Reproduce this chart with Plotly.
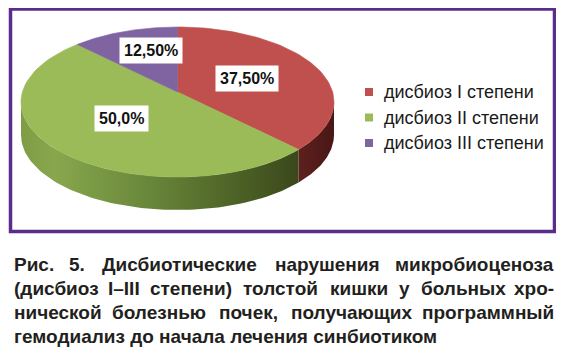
import numpy as np
import plotly.graph_objects as go

# ---------------- data ----------------
categories = ["дисбиоз I степени", "дисбиоз II степени", "дисбиоз III степени"]
values = [37.5, 50.0, 12.5]
value_labels = ["37,50%", "50,0%", "12,50%"]

caption_lines = [
    ["Рис.", "5.", "Дисбиотические", "нарушения", "микробиоценоза"],
    ["(дисбиоз", "I–III", "степени)", "толстой", "кишки", "у", "больных", "хро-"],
    ["нической", "болезнью", "почек,", "получающих", "программный"],
    ["гемодиализ до начала лечения синбиотиком"],
]

# ---------------- styles / layout ----------------
top_colors = ["#C0504D", "#9BBB59", "#8064A2"]
side_scales = [
    [[0, "#5E201E"], [1, "#481716"]],
    [[0, "#7E9C45"], [0.12, "#88A74D"], [0.45, "#6A883B"], [0.8, "#4B5F25"], [1, "#3A481C"]],
    [[0, "#5A4573"], [1, "#46355A"]],
]
FONT = "Liberation Sans, Arial, sans-serif"
PAGE_W, PAGE_H = 564, 356
OFF = 8  # page body margin: figure starts at (8, 8)
W, H = PAGE_W - OFF, PAGE_H - OFF
CX, CY, RX, RY = 177.5, 102.0, 156.5, 75.0
TILT = -0.133
DEPTH = 33.0
label_pos = [(247, 78), (121, 118), (151, 50)]

# approximate Arial Bold advance widths (em/1000)
BW = {
    'а': 556, 'б': 609, 'в': 563, 'г': 396, 'д': 625, 'е': 556, 'ж': 833, 'з': 514,
    'и': 604, 'й': 604, 'к': 521, 'л': 604, 'м': 740, 'н': 604, 'о': 611, 'п': 604,
    'р': 611, 'с': 556, 'т': 479, 'у': 556, 'ф': 885, 'х': 556, 'ц': 625, 'ч': 573,
    'ш': 865, 'щ': 885, 'ъ': 677, 'ы': 823, 'ь': 583, 'э': 556, 'ю': 885, 'я': 583,
    'Р': 667, 'Д': 722, 'I': 278, '.': 278, ',': 278, '(': 333, ')': 333, '–': 556,
    '-': 333, '5': 556, ' ': 278,
}


def text_w(s, size):
    return sum(BW.get(c, 580) for c in s) * size / 1000.0


def rim_psi(theta_deg):
    t = np.radians(theta_deg)
    u, v = np.sin(t), -np.cos(t)
    den = 1 + TILT * v
    xp = u * np.sqrt(1 - TILT ** 2) / den
    yp = (v + TILT) / den
    return np.degrees(np.arctan2(xp, -yp))


def arc(p1, p2, dy=0.0, n=80):
    ps = np.radians(np.linspace(p1, p2, n))
    return CX + RX * np.sin(ps), CY - RY * np.cos(ps) + dy


# wedge angles (clockwise from 12 o'clock)
total = sum(values)
bounds = np.concatenate([[0], np.cumsum(values) / total * 360.0])
psis = []
prev = -1e9
for b in bounds:
    p = rim_psi(b) % 360.0
    if b >= 360.0 - 1e-9:
        p = 360.0
    while p < prev:
        p += 360.0
    psis.append(p)
    prev = p

apex = (CX, CY + RY * TILT)

fig = go.Figure()

# side walls (visible front half: psi 90..270)
for i in range(len(values)):
    lo, hi = max(psis[i], 90.0), min(psis[i + 1], 270.0)
    if hi <= lo:
        continue
    xt, yt = arc(lo, hi)
    xb, yb = arc(lo, hi, DEPTH)
    xs = np.concatenate([xt, xb[::-1], xt[:1]])
    ys = np.concatenate([yt, yb[::-1], yt[:1]])
    fig.add_trace(go.Scatter(
        x=xs, y=ys, mode="lines", fill="toself",
        line=dict(width=0, color=side_scales[i][-1][1]),
        fillgradient=dict(type="horizontal", colorscale=side_scales[i],
                          start=float(xs.min()), stop=float(xs.max())),
        hoverinfo="skip", showlegend=False))

# top faces
for i in range(len(values)):
    xa, ya = arc(psis[i], psis[i + 1])
    xs = np.concatenate([[apex[0]], xa, [apex[0]]])
    ys = np.concatenate([[apex[1]], ya, [apex[1]]])
    fig.add_trace(go.Scatter(
        x=xs, y=ys, mode="lines", fill="toself", fillcolor=top_colors[i],
        line=dict(width=0.6, color=top_colors[i]),
        name=categories[i], hoverinfo="name", showlegend=False))

annotations = []
shapes = []

# value labels
for i, lab in enumerate(value_labels):
    annotations.append(dict(
        x=label_pos[i][0], y=label_pos[i][1], xref="x", yref="y",
        text="<b>%s</b>" % lab, showarrow=False, bgcolor="white", borderpad=4,
        font=dict(family=FONT, size=16, color="#111111"),
        xanchor="center", yanchor="middle"))

# legend
leg_x, leg_y0, leg_dy = 365, 92, 25.5
for i, cat in enumerate(categories):
    yy = leg_y0 + i * leg_dy
    shapes.append(dict(type="rect", xref="x", yref="y", x0=leg_x, x1=leg_x + 8,
                       y0=yy - 4, y1=yy + 4, fillcolor=top_colors[i], line=dict(width=0)))
    annotations.append(dict(
        x=leg_x + 17, y=yy, xref="x", yref="y", text=cat, showarrow=False,
        font=dict(family=FONT, size=18, color="#1A1A1A"),
        xanchor="left", yanchor="middle"))

# frame
shapes.append(dict(type="rect", xref="x", yref="y", x0=10.5, x1=554.5, y0=9, y1=231.5,
                   line=dict(color="#5B2C8C", width=3.5), fillcolor="rgba(0,0,0,0)",
                   layer="below"))

# caption (justified; inner words centre-anchored to spread width errors)
CAP = 19
left, right = 12, 556
baselines = [271, 295, 319, 343]
for li, words in enumerate(caption_lines):
    yc = baselines[li] - 0.35 * CAP
    font = dict(family=FONT, size=CAP, color="#231F20")
    if len(words) == 1:
        annotations.append(dict(x=left, y=yc, xref="x", yref="y",
                                text="<b>%s</b>" % words[0], showarrow=False,
                                font=font, xanchor="left", yanchor="middle"))
        continue
    widths = [text_w(w, CAP) for w in words]
    gap = (right - left - sum(widths)) / (len(words) - 1)
    x = left
    for wi, w in enumerate(words):
        if wi == 0:
            ax, anc = left, "left"
        elif wi == len(words) - 1:
            ax, anc = right, "right"
        else:
            ax, anc = x + widths[wi] / 2, "center"
        annotations.append(dict(x=ax, y=yc, xref="x", yref="y",
                                text="<b>%s</b>" % w, showarrow=False,
                                font=font, xanchor=anc, yanchor="middle"))
        x += widths[wi] + gap

fig.update_layout(
    width=W, height=H, margin=dict(l=0, r=0, t=0, b=0),
    paper_bgcolor="white", plot_bgcolor="white",
    xaxis=dict(range=[OFF, PAGE_W], visible=False, fixedrange=True, domain=[0, 1]),
    yaxis=dict(range=[PAGE_H, OFF], visible=False, fixedrange=True, domain=[0, 1]),
    annotations=annotations, shapes=shapes, showlegend=False,
)

fig.write_html("out.html")
